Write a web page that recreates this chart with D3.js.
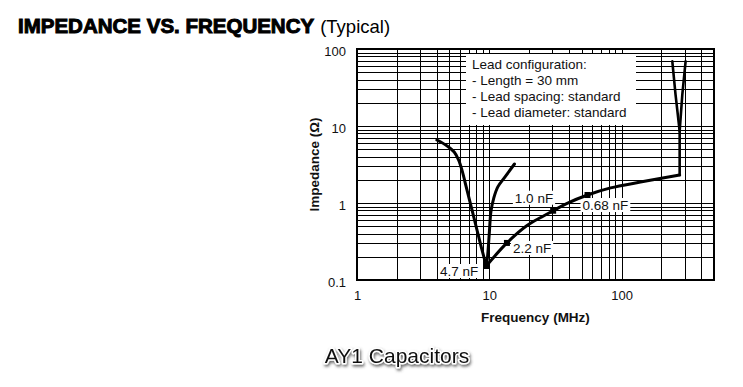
<!DOCTYPE html>
<html>
<head>
<meta charset="utf-8">
<script src="https://cdn.jsdelivr.net/npm/d3@7"></script>
<style>
  body { margin: 0; background: #fff; }
  svg { display: block; font-family: "Liberation Sans", Arial, sans-serif; }
</style>
</head>
<body>
<svg id="chart" width="743" height="387"></svg>
<script>
// decade labels on the axes
const xLabels = [1, 10, 100];
const yLabels = [0.1, 1, 10, 100];

// 4.7 nF curve, falling side (MHz, ohm)
const fallF = [4.02, 4.81, 5.43, 5.87, 6.24, 6.70, 7.31, 7.97, 8.70, 9.49];
const fallZ = [6.58, 5.50, 4.59, 3.61, 2.61, 1.61, 0.887, 0.488, 0.268, 0.152];
// 4.7 nF curve, rising side
const riseF = [9.49, 9.70, 10.0, 10.3, 10.8, 11.6, 13.2, 15.5];
const riseZ = [0.152, 0.20, 0.40, 0.78, 1.15, 1.62, 2.20, 3.21];
// locus of the resonance points
const locusF = [9.49, 13.6, 19.3, 25.7, 30.4, 38.8, 55.3, 82.6, 139, 275];
const locusZ = [0.152, 0.303, 0.51, 0.678, 0.794, 0.99, 1.27, 1.57, 1.87, 2.31];
// lead resonance spike at the top end
const spikeLeftF = [275, 275, 256, 242];
const spikeLeftZ = [2.31, 8.6, 25.5, 69];
const spikeRightF = [275, 288, 305];
const spikeRightZ = [8.6, 25.5, 69];

// marked capacitances
const markerNames = ["4.7 nF", "2.2 nF", "1.0 nF", "0.68 nF"];
const markerF = [9.49, 13.6, 30.4, 55.3];
const markerZ = [0.152, 0.303, 0.794, 1.27];

const legendLines = [
  "Lead configuration:",
  "- Length = 30 mm",
  "- Lead spacing: standard",
  "- Lead diameter: standard"
];

const svg = d3.select("#chart");
const margin = { top: 49, right: 29, bottom: 107, left: 357 };
const width = 743 - margin.left - margin.right;
const height = 387 - margin.top - margin.bottom;

const x = d3.scaleLog().domain([1, 500]).range([0, width]);
const y = d3.scaleLog().domain([0.1, 100]).range([height, 0]);

const g = svg.append("g")
  .attr("transform", "translate(" + margin.left + "," + margin.top + ")");

// title
const title = svg.append("text")
  .attr("x", 18)
  .attr("y", 33)
  .attr("fill", "#000");
title.append("tspan")
  .attr("font-size", 20.5)
  .attr("font-weight", "bold")
  .attr("stroke", "#000")
  .attr("stroke-width", 1)
  .text("IMPEDANCE VS. FREQUENCY");
title.append("tspan")
  .attr("font-size", 18.5)
  .attr("dx", 6)
  .text("(Typical)");

// log grid
const grid = g.append("g").attr("stroke", "#000").attr("stroke-width", 1);
grid.selectAll(".vx")
  .data(x.ticks())
  .enter().append("line")
  .attr("x1", d => Math.round(x(d)) + 0.5)
  .attr("x2", d => Math.round(x(d)) + 0.5)
  .attr("y1", 0)
  .attr("y2", height);
grid.selectAll(".hy")
  .data(y.ticks())
  .enter().append("line")
  .attr("y1", d => Math.round(y(d)) + 0.5)
  .attr("y2", d => Math.round(y(d)) + 0.5)
  .attr("x1", 0)
  .attr("x2", width);

// legend box hides the grid behind it
const legend = g.append("g").attr("transform", "translate(109,5)");
legend.append("rect")
  .attr("width", 170)
  .attr("height", 71)
  .attr("fill", "#fff");
legend.selectAll("text")
  .data(legendLines)
  .enter().append("text")
  .attr("x", 6)
  .attr("y", (d, i) => 15 + i * 16)
  .attr("font-size", 13.5)
  .attr("fill", "#111")
  .text(d => d);

// capacitance labels, with white backing
const labelOffset = [
  { dx: -8, dy: 10, anchor: "end" },
  { dx: 6, dy: 10, anchor: "start" },
  { dx: 0, dy: -8, anchor: "end" },
  { dx: -5, dy: 15, anchor: "start" }
];
const labels = g.append("g").selectAll("g")
  .data(markerNames)
  .enter().append("g");
labels.append("text")
  .attr("x", (d, i) => x(markerF[i]) + labelOffset[i].dx)
  .attr("y", (d, i) => y(markerZ[i]) + labelOffset[i].dy)
  .attr("text-anchor", (d, i) => labelOffset[i].anchor)
  .attr("font-size", 13.5)
  .attr("fill", "#111")
  .text(d => d);
labels.each(function() {
  const grp = d3.select(this);
  const b = grp.select("text").node().getBBox();
  grp.insert("rect", "text")
    .attr("x", b.x - 2)
    .attr("y", b.y)
    .attr("width", b.width + 4)
    .attr("height", b.height - 1)
    .attr("fill", "#fff");
});

// curves
const toPts = (fs, zs) => fs.map((f, i) => [x(f), y(zs[i])]);
const smooth = d3.line().curve(d3.curveCatmullRom.alpha(0.5));
const straight = d3.line();
const curves = g.append("g")
  .attr("fill", "none")
  .attr("stroke", "#000")
  .attr("stroke-linejoin", "round")
  .attr("stroke-linecap", "round");
curves.append("path").attr("stroke-width", 3).attr("d", smooth(toPts(fallF, fallZ)));
curves.append("path").attr("stroke-width", 3).attr("d", smooth(toPts(riseF, riseZ)));
curves.append("path").attr("stroke-width", 3).attr("d", smooth(toPts(locusF, locusZ)));
curves.append("path").attr("stroke-width", 2.6).attr("d", straight(toPts(spikeLeftF, spikeLeftZ)));
curves.append("path").attr("stroke-width", 2.6).attr("d", straight(toPts(spikeRightF, spikeRightZ)));

// square markers
g.append("g").selectAll("rect")
  .data(markerF)
  .enter().append("rect")
  .attr("x", (d, i) => x(d) - 3)
  .attr("y", (d, i) => y(markerZ[i]) - 3)
  .attr("width", 6)
  .attr("height", 6)
  .attr("fill", "#000");

// frame
g.append("rect")
  .attr("width", width)
  .attr("height", height)
  .attr("fill", "none")
  .attr("stroke", "#000")
  .attr("stroke-width", 2);

// axes: only decade labels
const xAxis = g.append("g")
  .attr("transform", "translate(0," + height + ")")
  .call(d3.axisBottom(x).tickValues(xLabels).tickSize(0).tickPadding(11).tickFormat(d3.format("")));
const yAxis = g.append("g")
  .call(d3.axisLeft(y).tickValues(yLabels).tickSize(0).tickPadding(11).tickFormat(d => String(d)));
[xAxis, yAxis].forEach(a => {
  a.select(".domain").remove();
  a.selectAll("text")
    .attr("font-family", "Liberation Sans, Arial, sans-serif")
    .attr("font-size", 13)
    .attr("fill", "#111");
});
yAxis.selectAll("text").attr("dy", "0.5em");

svg.append("text")
  .attr("x", margin.left + width / 2)
  .attr("y", 322)
  .attr("text-anchor", "middle")
  .attr("font-size", 13.5)
  .attr("font-weight", "bold")
  .attr("fill", "#111")
  .text("Frequency (MHz)");

svg.append("text")
  .attr("transform", "translate(319," + (margin.top + height / 2) + ") rotate(-90)")
  .attr("text-anchor", "middle")
  .attr("font-size", 13.5)
  .attr("font-weight", "bold")
  .attr("fill", "#111")
  .text("Impedance (\u03A9)");

// caption with outline and drop shadow
const defs = svg.append("defs");
const shadow = defs.append("filter").attr("id", "shadow")
  .attr("x", "-10%").attr("y", "-30%").attr("width", "120%").attr("height", "170%");
shadow.append("feDropShadow")
  .attr("dx", 1).attr("dy", 2).attr("stdDeviation", 1.5)
  .attr("flood-color", "#444").attr("flood-opacity", 0.8);

svg.append("text")
  .attr("x", 397)
  .attr("y", 363)
  .attr("text-anchor", "middle")
  .attr("font-size", 21)
  .attr("fill", "#111")
  .attr("stroke", "#fff")
  .attr("stroke-width", 3)
  .attr("stroke-linejoin", "round")
  .attr("paint-order", "stroke")
  .attr("filter", "url(#shadow)")
  .text("AY1 Capacitors");
</script>
</body>
</html>
